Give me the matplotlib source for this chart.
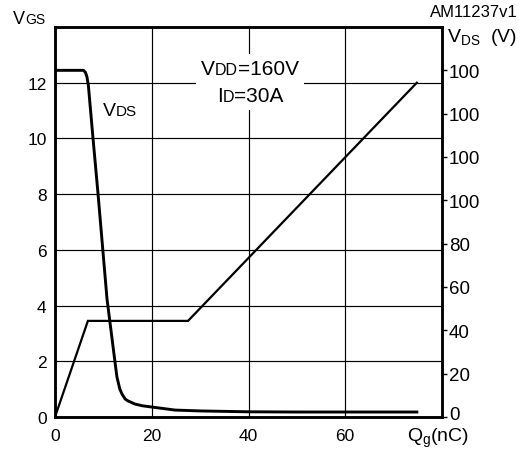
import matplotlib
matplotlib.use("Agg")
import matplotlib.pyplot as plt
import matplotlib.transforms as mtransforms
from matplotlib.offsetbox import TextArea, HPacker, VPacker, AnnotationBbox

plt.rcParams['font.family'] = ['Liberation Sans', 'DejaVu Sans']
plt.rcParams['mathtext.fontset'] = 'custom'
plt.rcParams['mathtext.rm'] = 'Liberation Sans'
plt.rcParams['mathtext.it'] = 'Liberation Sans'

# gate-source voltage (left axis)
qg_vgs = [0, 6.8, 27.5, 74.8]
vgs = [0, 3.45, 3.45, 12.0]

# drain-source voltage (right axis)
qg_vds = [0, 5.9, 6.3, 6.6, 6.9, 7.85, 8.9, 10.75, 11.8, 12.4, 12.8, 13.4, 13.85,
          14.5, 15.1, 16.5, 18, 20, 24.8, 30, 40, 50, 74.8]
vds = [160, 160, 159, 157, 153, 128.8, 102.9, 54.5, 36, 25.4, 18.5, 12.9, 10.6,
       8.3, 7.4, 6.0, 5.2, 4.6, 3.2, 2.8, 2.4, 2.3, 2.3]

qg_ticks = [0, 20, 40, 60]
vgs_ticks = [0, 2, 4, 6, 8, 10, 12]
vds_ticks = [0, 20, 40, 60, 80, 100, 120, 140, 160]
vds_tick_labels = ['0', '20', '40', '60', '80', '100', '100', '100', '100']


def caps_label(pieces, big, small):
    # letters on one baseline, every second part in a smaller size
    boxes = []
    for i, t in enumerate(pieces):
        size = small if i % 2 == 1 else big
        boxes.append(TextArea(t, textprops=dict(fontsize=size, color='black')))
    return HPacker(children=boxes, align='baseline', pad=0, sep=0)


def put(fig, box, x, y, align=(0, 0), frame=False, pad=0.25):
    ab = AnnotationBbox(box, (x, 452 - y), xycoords='figure pixels',
                        box_alignment=align, frameon=frame, pad=pad,
                        bboxprops=dict(fc='white', ec='none'))
    ab.set_zorder(10)
    fig.add_artist(ab)


fig = plt.figure(figsize=(5.21, 4.52), dpi=100)
ax = fig.add_axes([55 / 521, 34 / 452, 387 / 521, 390 / 452])
ax2 = ax.twinx()

ax.set_xlim(0, 80)
ax.set_ylim(0, 14)
ax2.set_ylim(0, 180)

ax.set_axisbelow(True)
ax.grid(True, color='black', lw=0.85)
ax.set_xticks(qg_ticks)
ax.set_yticks(vgs_ticks)
ax.tick_params(length=0, labelsize=12.5)
ax.tick_params(axis='y', pad=6)
ax.tick_params(axis='x', pad=8)

ax2.set_yticks(vds_ticks)
ax2.set_yticklabels(vds_tick_labels)
ax2.tick_params(axis='y', direction='out', length=3.5, width=1, pad=1.5, labelsize=13.5)
# the bottom "0" sits a little higher, clear of the Qg label
lab0 = ax2.yaxis.get_major_ticks()[0].label2
lab0.set_transform(lab0.get_transform() +
                   mtransforms.ScaledTranslation(0, 3 / 72, fig.dpi_scale_trans))

for a in (ax, ax2):
    for s in a.spines.values():
        s.set_linewidth(1.8)

ax.plot(qg_vgs, vgs, color='black', lw=1.6, solid_joinstyle='miter')
ax2.plot(qg_vds, vds, color='black', lw=2.1)

# top-left axis name
put(fig, caps_label(['V', 'GS'], 13, 10), 13, 28)
# curve label
put(fig, caps_label(['V', 'DS'], 14, 11), 103, 120)
# test conditions box
cond = VPacker(children=[caps_label(['V', 'DD', '=160V'], 15, 11.5),
                         caps_label(['I', 'D', '=30A'], 15, 11.5)],
               align='center', pad=0, sep=6)
put(fig, cond, 250, 83, align=(0.5, 0.5), frame=True, pad=0.35)

fig.text(518 / 521, 1 - 17 / 452, 'AM11237v1', fontsize=12, ha='right', va='baseline')
fig.text(447 / 521, 1 - 42 / 452, r'V$_{\rm DS}$  (V)', fontsize=14, ha='left', va='baseline')
fig.text(407 / 521, 1 - 442 / 452, r'Q$_{\rm g}$(nC)', fontsize=14, ha='left', va='baseline')

fig.savefig('out.png', dpi=100)
